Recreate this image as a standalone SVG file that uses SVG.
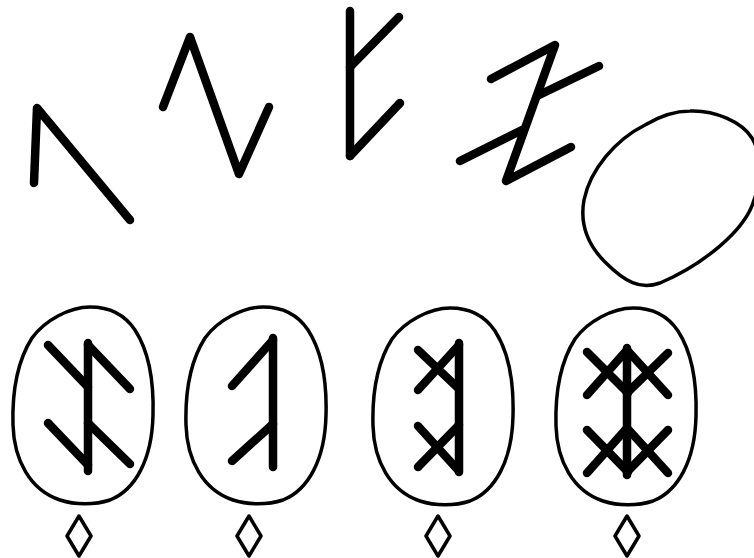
<svg xmlns="http://www.w3.org/2000/svg" xmlns:xlink="http://www.w3.org/1999/xlink" width="754" height="558" viewBox="0 0 754 558">
<style>
.rune{fill:none;stroke:#000;stroke-width:8.5;stroke-linecap:round;stroke-linejoin:round}
.outline{fill:none;stroke:#000;stroke-width:3.5;stroke-linejoin:round}
</style>
<defs>
<path id="egg" d="M90,307 C110,307 125,315 135,330 C148,350 154,380 153,415 C152,460 135,490 110,500 C95,505 75,505 60,500 C30,490 14,460 13,425 C12,390 18,360 32,338 C45,320 70,307 90,307 Z"/>
<path id="diamond" d="M0,-20 L12,0 L0,20 L-12,0 Z"/>
</defs>
<rect width="754" height="558" fill="#fff"/>
<g id="top-rune-1" class="rune">
<polyline points="34,183 37,108 130,220"/>
</g>
<g id="top-rune-2" class="rune">
<polyline points="163,107 190,37 239,174 269,107"/>
</g>
<g id="top-rune-3" class="rune">
<line x1="350" y1="11" x2="350" y2="156"/>
<line x1="350" y1="67" x2="399" y2="17"/>
<line x1="350" y1="156" x2="400" y2="103"/>
</g>
<g id="top-rune-4" class="rune">
<polyline points="491,79 555,45 506,181 571,147"/>
<line x1="537" y1="96" x2="599" y2="66"/>
<line x1="460" y1="161" x2="522" y2="130"/>
</g>
<g id="top-oval">
<path class="outline" d="M690,111 C715,110 742,122 752,138 C762,155 762,180 754,200 C745,232 700,266 660,283 C640,290 625,282 605,262 C585,242 580,222 584,200 C590,170 615,140 645,125 C660,116 675,111 690,111 Z"/>
</g>
<g id="stone-1">
<use xlink:href="#egg" class="outline"/>
<g class="rune">
<line x1="88" y1="343" x2="88" y2="471"/>
<line x1="48" y1="345" x2="88" y2="387"/>
<line x1="88" y1="345" x2="130" y2="389"/>
<line x1="48" y1="423" x2="88" y2="465"/>
<line x1="88" y1="423" x2="130" y2="464"/>
</g>
<use xlink:href="#diamond" class="outline" x="79" y="536"/>
</g>
<g id="stone-2">
<use xlink:href="#egg" class="outline" transform="translate(173,0)"/>
<g class="rune">
<line x1="273" y1="338" x2="273" y2="467"/>
<line x1="273" y1="340" x2="232" y2="386"/>
<line x1="273" y1="424" x2="232" y2="461"/>
</g>
<use xlink:href="#diamond" class="outline" x="249" y="536"/>
</g>
<g id="stone-3">
<use xlink:href="#egg" class="outline" transform="translate(360,1)"/>
<g class="rune">
<line x1="459" y1="343" x2="459" y2="472"/>
<line x1="418" y1="350" x2="458" y2="388"/>
<line x1="418" y1="390" x2="459" y2="345"/>
<line x1="418" y1="426" x2="458" y2="470"/>
<line x1="418" y1="467" x2="459" y2="425"/>
</g>
<use xlink:href="#diamond" class="outline" x="438" y="536"/>
</g>
<g id="stone-4">
<use xlink:href="#egg" class="outline" transform="translate(543,1)"/>
<g class="rune">
<line x1="627" y1="348" x2="627" y2="475"/>
<line x1="587" y1="352" x2="628" y2="393"/>
<line x1="587" y1="395" x2="627" y2="350"/>
<line x1="668" y1="353" x2="627" y2="393"/>
<line x1="668" y1="395" x2="627" y2="350"/>
<line x1="587" y1="430" x2="628" y2="472"/>
<line x1="587" y1="473" x2="627" y2="428"/>
<line x1="668" y1="430" x2="627" y2="472"/>
<line x1="668" y1="473" x2="627" y2="428"/>
</g>
<use xlink:href="#diamond" class="outline" x="627" y="536"/>
</g>
</svg>
